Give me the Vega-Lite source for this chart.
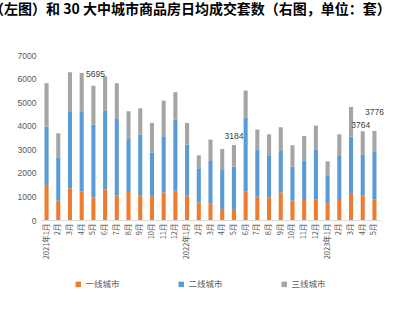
{
  "$schema": "https://vega.github.io/schema/vega-lite/v6.json",
  "width": 339,
  "height": 165,
  "autosize": {"type": "none"},
  "padding": {"left": 41, "top": 55, "right": 29, "bottom": 104},
  "background": "white",
  "config": {
    "view": {"stroke": null},
    "font": "Noto Sans CJK SC",
    "axisY": {"labelOverlap": false, "labelFlush": false}
  },
  "title": {
    "text": "（左图）和 30 大中城市商品房日均成交套数（右图，单位：套）",
    "anchor": "start",
    "frame": "group",
    "dx": -51,
    "offset": 34,
    "fontSize": 14,
    "fontWeight": "bold",
    "color": "#000000",
    "font": "Noto Sans CJK SC"
  },
  "datasets": {
    "bars": [
      {"m": "2021年1月", "一线城市": 1486, "二线城市": 2476, "三线城市": 1840},
      {"m": "2021年2月", "一线城市": 821, "二线城市": 1839, "三线城市": 1019},
      {"m": "2021年3月", "一线城市": 1344, "二线城市": 3269, "三线城市": 1656},
      {"m": "2021年4月", "一线城市": 1217, "二线城市": 3396, "三线城市": 1627},
      {"m": "2021年5月", "一线城市": 962, "二线城市": 3085, "三线城市": 1648},
      {"m": "2021年6月", "一线城市": 1302, "二线城市": 3353, "三线城市": 1444},
      {"m": "2021年7月", "一线城市": 1047, "二线城市": 3269, "三线城市": 1486},
      {"m": "2021年8月", "一线城市": 1189, "二线城市": 2250, "三线城市": 1174},
      {"m": "2021年9月", "一线城市": 1033, "二线城市": 2589, "三线城市": 1118},
      {"m": "2021年10月", "一线城市": 1005, "二线城市": 1853, "三线城市": 1260},
      {"m": "2021年11月", "一线城市": 1174, "二线城市": 2378, "三线城市": 1514},
      {"m": "2021年12月", "一线城市": 1245, "二线城市": 3014, "三线城市": 1161},
      {"m": "2022年1月", "一线城市": 1033, "二线城市": 2165, "三线城市": 920},
      {"m": "2022年2月", "一线城市": 750, "二线城市": 1443, "三线城市": 552},
      {"m": "2022年3月", "一线城市": 693, "二线城市": 1812, "三线城市": 905},
      {"m": "2022年4月", "一线城市": 467, "二线城市": 1684, "三线城市": 863},
      {"m": "2022年5月", "一线城市": 467, "二线城市": 1797, "三线城市": 920},
      {"m": "2022年6月", "一线城市": 1217, "二线城市": 3141, "三线城市": 1132},
      {"m": "2022年7月", "一线城市": 991, "二线城市": 1981, "三线城市": 863},
      {"m": "2022年8月", "一线城市": 962, "二线城市": 1755, "三线城市": 920},
      {"m": "2022年9月", "一线城市": 1160, "二线城市": 1769, "三线城市": 1005},
      {"m": "2022年10月", "一线城市": 821, "二线城市": 1443, "三线城市": 906},
      {"m": "2022年11月", "一线城市": 891, "二线城市": 1642, "三线城市": 1033},
      {"m": "2022年12月", "一线城市": 863, "二线城市": 2137, "三线城市": 1005},
      {"m": "2023年1月", "一线城市": 693, "二线城市": 1203, "三线城市": 594},
      {"m": "2023年2月", "一线城市": 849, "二线城市": 1868, "三线城市": 920},
      {"m": "2023年3月", "一线城市": 1146, "二线城市": 2392, "三线城市": 1259},
      {"m": "2023年4月", "一线城市": 1033, "二线城市": 1755, "三线城市": 976},
      {"m": "2023年5月", "一线城市": 877, "二线城市": 2038, "三线城市": 861}
    ],
    "labels": [
      {"m": "2021年5月", "t": 5695},
      {"m": "2022年5月", "t": 3184},
      {"m": "2023年4月", "t": 3764},
      {"m": "2023年5月", "t": 3776}
    ]
  },
  "encoding": {
    "x": {
      "field": "m",
      "type": "nominal",
      "sort": null,
      "scale": {"paddingInner": 0.65, "paddingOuter": 0.3},
      "axis": {
        "title": null,
        "labelAngle": 270,
        "labelFontSize": 7.5,
        "labelColor": "#595959",
        "labelFont": "Noto Sans CJK SC",
        "ticks": false,
        "labelPadding": 3,
        "domainColor": "#d9d9d9",
        "labelExpr": "indexof(datum.value, '年1月') >= 0 ? datum.value : split(datum.value, '年')[1]"
      }
    }
  },
  "layer": [
    {
      "data": {"name": "bars"},
      "transform": [
        {"fold": ["一线城市", "二线城市", "三线城市"], "as": ["city", "v"]},
        {"calculate": "indexof(['一线城市','二线城市','三线城市'], datum.city)", "as": "ord"}
      ],
      "mark": {"type": "bar"},
      "encoding": {
        "y": {
          "field": "v",
          "type": "quantitative",
          "stack": "zero",
          "scale": {"domain": [0, 7000]},
          "axis": {
            "title": null,
            "values": [0, 1000, 2000, 3000, 4000, 5000, 6000, 7000],
            "format": "d",
            "labelOverlap": false,
            "grid": false,
            "domain": false,
            "ticks": false,
            "labelPadding": 5,
            "labelFontSize": 8.5,
            "labelColor": "#595959",
            "labelFont": "Liberation Sans"
          }
        },
        "color": {
          "field": "city",
          "type": "nominal",
          "scale": {
            "domain": ["一线城市", "二线城市", "三线城市"],
            "range": ["#ED7D31", "#5B9BD5", "#A5A5A5"]
          },
          "legend": {
            "title": null,
            "orient": "none",
            "legendX": 33,
            "legendY": 225,
            "direction": "horizontal",
            "symbolType": "square",
            "symbolSize": 30,
            "symbolStrokeWidth": 0,
            "labelFontSize": 8.5,
            "labelColor": "#595959",
            "labelFont": "Noto Sans CJK SC",
            "columnPadding": 57,
            "labelOffset": 3
          }
        },
        "order": {"field": "ord", "type": "quantitative"}
      }
    },
    {
      "data": {"name": "labels"},
      "transform": [{"filter": "datum.t == 5695"}],
      "mark": {"type": "text", "dy": -12, "dx": 2, "fontSize": 8.5, "color": "#404040", "font": "Liberation Sans"},
      "encoding": {
        "y": {"field": "t", "type": "quantitative", "axis": {"title": null, "values": [0, 1000, 2000, 3000, 4000, 5000, 6000, 7000], "format": "d", "labelOverlap": false, "grid": false, "domain": false, "ticks": false, "labelPadding": 5, "labelFontSize": 8.5, "labelColor": "#595959", "labelFont": "Liberation Sans"}},
        "text": {"field": "t", "type": "nominal"}
      }
    },
    {
      "data": {"name": "labels"},
      "transform": [{"filter": "datum.t == 3184"}],
      "mark": {"type": "text", "dy": -9, "fontSize": 8.5, "color": "#404040", "font": "Liberation Sans"},
      "encoding": {
        "y": {"field": "t", "type": "quantitative", "axis": {"title": null, "values": [0, 1000, 2000, 3000, 4000, 5000, 6000, 7000], "format": "d", "labelOverlap": false, "grid": false, "domain": false, "ticks": false, "labelPadding": 5, "labelFontSize": 8.5, "labelColor": "#595959", "labelFont": "Liberation Sans"}},
        "text": {"field": "t", "type": "nominal"}
      }
    },
    {
      "data": {"name": "labels"},
      "transform": [{"filter": "datum.t == 3764"}],
      "mark": {"type": "text", "dy": -6, "dx": -2, "fontSize": 8.5, "color": "#404040", "font": "Liberation Sans"},
      "encoding": {
        "y": {"field": "t", "type": "quantitative", "axis": {"title": null, "values": [0, 1000, 2000, 3000, 4000, 5000, 6000, 7000], "format": "d", "labelOverlap": false, "grid": false, "domain": false, "ticks": false, "labelPadding": 5, "labelFontSize": 8.5, "labelColor": "#595959", "labelFont": "Liberation Sans"}},
        "text": {"field": "t", "type": "nominal"}
      }
    },
    {
      "data": {"name": "labels"},
      "transform": [{"filter": "datum.t == 3776"}],
      "mark": {"type": "text", "dy": -19, "fontSize": 8.5, "color": "#404040", "font": "Liberation Sans"},
      "encoding": {
        "y": {"field": "t", "type": "quantitative", "axis": {"title": null, "values": [0, 1000, 2000, 3000, 4000, 5000, 6000, 7000], "format": "d", "labelOverlap": false, "grid": false, "domain": false, "ticks": false, "labelPadding": 5, "labelFontSize": 8.5, "labelColor": "#595959", "labelFont": "Liberation Sans"}},
        "text": {"field": "t", "type": "nominal"}
      }
    }
  ]
}
